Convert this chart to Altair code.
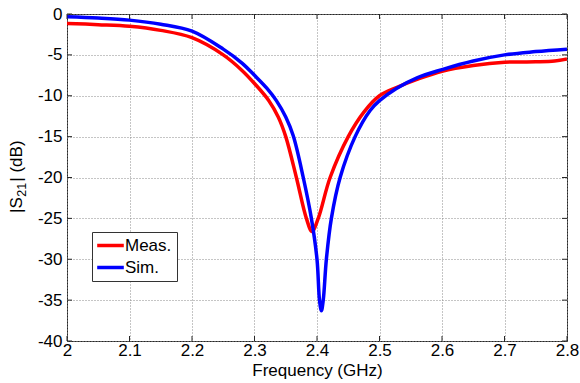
import altair as alt
import pandas as pd

FONT = "Liberation Sans"

# Measured |S21| response (GHz, dB)
meas_freq = [2.00, 2.05, 2.10, 2.15, 2.20, 2.25, 2.28, 2.30, 2.323, 2.338, 2.350,
             2.367, 2.383, 2.392, 2.402, 2.421, 2.450, 2.475, 2.500, 2.527, 2.560,
             2.600, 2.650, 2.700, 2.750, 2.780, 2.800]
meas_db = [-1.15, -1.3, -1.5, -2.0, -2.9, -5.0, -6.9, -8.5, -10.6, -12.6, -15.0,
           -20.0, -25.0, -26.6, -25.0, -20.0, -15.0, -12.0, -10.0, -9.0, -8.0,
           -7.0, -6.3, -5.9, -5.85, -5.75, -5.5]

# Simulated |S21| response (GHz, dB)
sim_freq = [2.00, 2.05, 2.10, 2.15, 2.20, 2.25, 2.28, 2.30, 2.32, 2.335, 2.350,
            2.362, 2.378, 2.391, 2.400, 2.404, 2.407, 2.410, 2.415, 2.423, 2.437,
            2.461, 2.485, 2.500, 2.527, 2.560, 2.600, 2.650, 2.700, 2.750, 2.800]
sim_db = [-0.35, -0.5, -0.75, -1.25, -2.1, -4.3, -6.0, -7.5, -9.1, -10.6, -12.6,
          -14.9, -20.0, -25.0, -30.0, -35.0, -36.3, -35.0, -30.0, -25.0, -20.0,
          -15.0, -11.8, -10.6, -9.1, -7.8, -6.8, -5.75, -5.0, -4.6, -4.3]

series_names = ["Meas.", "Sim."]
series_colors = ["#ff0000", "#0000ff"]

x_ticks = [2.0, 2.1, 2.2, 2.3, 2.4, 2.5, 2.6, 2.7, 2.8]
y_ticks = [0, -5, -10, -15, -20, -25, -30, -35, -40]

W, H = 500, 327
TICK = 5
FRAME = "#262626"
X_TITLE = "Frequency (GHz)"

curves = pd.concat([
    pd.DataFrame({"freq": meas_freq, "db": meas_db, "series": series_names[0]}),
    pd.DataFrame({"freq": sim_freq, "db": sim_db, "series": series_names[1]}),
], ignore_index=True)
xt = pd.DataFrame({"freq": x_ticks})
yt = pd.DataFrame({"db": y_ticks})

xscale = alt.Scale(domain=[2.0, 2.8], nice=False, zero=False)
yscale = alt.Scale(domain=[-40, 0], nice=False, zero=False)

grid_style = dict(grid=True, gridDash=[1, 2], gridColor="#8a8a8a", gridWidth=1,
                  ticks=False, domain=False, labelFont=FONT, labelFontSize=17,
                  labelColor="black", labelFlush=False, labelExpr="'' + datum.value")

x_axis = alt.Axis(values=x_ticks, labelPadding=1, titleFont=FONT, titleFontSize=17,
                  titleFontWeight="normal", titleColor="black", titlePadding=4,
                  **grid_style)
y_axis = alt.Axis(values=y_ticks, labelPadding=5, **grid_style)

X = alt.X("freq:Q", scale=xscale, axis=x_axis, title=X_TITLE)
Y = alt.Y("db:Q", scale=yscale, axis=y_axis, title=None)

lines = alt.Chart(curves).mark_line(strokeWidth=3.5, interpolate="catmull-rom", clip=True).encode(
    x=X,
    y=Y,
    color=alt.Color(
        "series:N",
        scale=alt.Scale(domain=series_names, range=series_colors),
        legend=alt.Legend(
            title=None, orient="none", legendX=25, legendY=218, direction="vertical",
            symbolType="M-2,0H2", symbolStrokeWidth=3.5, symbolSize=177,
            symbolOffset=5, labelOffset=6,
            labelFont=FONT, labelFontSize=17, labelColor="black",
            fillColor="white", strokeColor="#333333", padding=5, rowPadding=4,
        ),
    ),
)

# inward tick marks on all four sides of the frame
ticks_bottom = alt.Chart(xt).mark_rule(color=FRAME, strokeWidth=1).encode(
    x=X, y=alt.value(H), y2=alt.value(H - TICK))
ticks_top = alt.Chart(xt).mark_rule(color=FRAME, strokeWidth=1).encode(
    x=X, y=alt.value(0), y2=alt.value(TICK))
ticks_left = alt.Chart(yt).mark_rule(color=FRAME, strokeWidth=1).encode(
    y=Y, x=alt.value(0), x2=alt.value(TICK))
ticks_right = alt.Chart(yt).mark_rule(color=FRAME, strokeWidth=1).encode(
    y=Y, x=alt.value(W), x2=alt.value(W - TICK))

# y-axis title |S21| (dB) with a subscript, written bottom-to-top
def title_part(txt, size, x, y):
    return alt.Chart(pd.DataFrame({"t": [txt]})).mark_text(
        angle=270, align="left", baseline="alphabetic", font=FONT, fontSize=size,
        color="black").encode(text="t:N", x=alt.value(x), y=alt.value(y))

ytitle = (title_part("|S", 17, -45, 199)
          + title_part("21", 12.5, -41.5, 182.7)
          + title_part("| (dB)", 17, -45, 167.7))

chart = alt.layer(
    lines, ticks_bottom, ticks_top, ticks_left, ticks_right, ytitle
).properties(
    width=W, height=H, autosize="none",
    padding={"left": 67, "top": 14, "right": 13, "bottom": 42},
    background="white",
).configure_view(stroke=FRAME, strokeWidth=1)

chart.save("out.html", embed_options={"renderer": "svg", "actions": False})
